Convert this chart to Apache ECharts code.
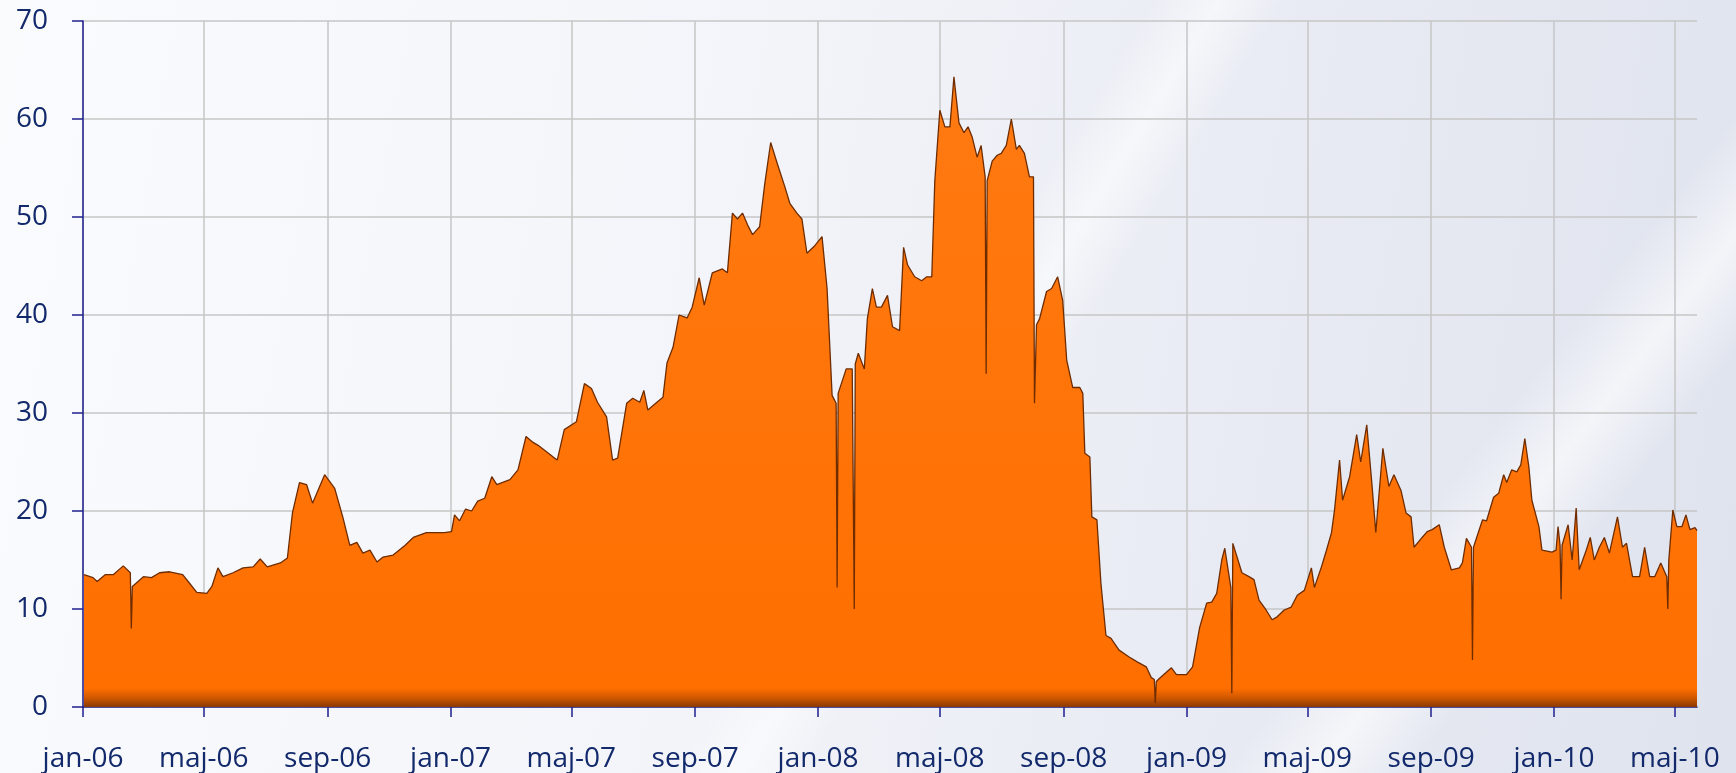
<!DOCTYPE html>
<html><head><meta charset="utf-8">
<script src="https://cdn.jsdelivr.net/npm/echarts@6/dist/echarts.min.js"></script>
<style>
html,body{margin:0;padding:0;width:1736px;height:773px;overflow:hidden;}
body{
  background:
    linear-gradient(122deg, rgba(255,255,255,0) 52%, rgba(255,255,255,0.55) 55%, rgba(255,255,255,0) 58%),
    linear-gradient(128deg, rgba(255,255,255,0) 78%, rgba(255,255,255,0.6) 82%, rgba(255,255,255,0) 86%),
    linear-gradient(100deg, #fafbfd 0%, #f4f5fa 40%, #e8ebf3 70%, #dfe3ee 100%);
}
#chart{width:1736px;height:773px;}
</style></head><body><div id="chart"></div>
<script>
const dates = [
 '2006-01-02','2006-01-11','2006-01-15','2006-01-23','2006-01-31','2006-02-10','2006-02-17','2006-02-18','2006-02-19','2006-03-02',
 '2006-03-10','2006-03-18','2006-03-28','2006-04-10','2006-04-17','2006-04-24','2006-05-04','2006-05-09','2006-05-15','2006-05-20',
 '2006-05-30','2006-06-09','2006-06-19','2006-06-26','2006-07-03','2006-07-16','2006-07-23','2006-07-28','2006-08-04','2006-08-11',
 '2006-08-17','2006-08-29','2006-09-08','2006-09-16','2006-09-23','2006-09-30','2006-10-06','2006-10-13','2006-10-20','2006-10-26',
 '2006-11-05','2006-11-17','2006-11-25','2006-12-08','2006-12-26','2007-01-02','2007-01-05','2007-01-10','2007-01-16','2007-01-22',
 '2007-01-28','2007-02-04','2007-02-11','2007-02-16','2007-03-01','2007-03-09','2007-03-17','2007-03-24','2007-03-29','2007-04-07',
 '2007-04-13','2007-04-17','2007-04-24','2007-05-06','2007-05-14','2007-05-21','2007-05-27','2007-06-05','2007-06-11','2007-06-16',
 '2007-06-25','2007-07-01','2007-07-08','2007-07-12','2007-07-16','2007-07-25','2007-07-31','2007-08-04','2007-08-10','2007-08-16',
 '2007-08-24','2007-08-29','2007-09-05','2007-09-10','2007-09-18','2007-09-23','2007-09-28','2007-10-03','2007-10-08','2007-10-13',
 '2007-10-18','2007-10-23','2007-10-28','2007-11-04','2007-11-09','2007-11-15','2007-11-22','2007-11-29','2007-12-04','2007-12-11',
 '2007-12-16','2007-12-21','2007-12-29','2008-01-05','2008-01-10','2008-01-15','2008-01-19','2008-01-20','2008-01-21','2008-01-29',
 '2008-02-04','2008-02-06','2008-02-07','2008-02-10','2008-02-16','2008-02-19','2008-02-24','2008-02-28','2008-03-04','2008-03-10',
 '2008-03-15','2008-03-22','2008-03-26','2008-03-30','2008-04-06','2008-04-13','2008-04-18','2008-04-23','2008-04-26','2008-05-01',
 '2008-05-06','2008-05-11','2008-05-15','2008-05-20','2008-05-25','2008-05-29','2008-06-02','2008-06-07','2008-06-11','2008-06-15',
 '2008-06-16','2008-06-17','2008-06-22','2008-06-27','2008-07-01','2008-07-06','2008-07-11','2008-07-16','2008-07-19','2008-07-24',
 '2008-07-29','2008-08-02','2008-08-03','2008-08-05','2008-08-08','2008-08-15','2008-08-20','2008-08-26','2008-08-31','2008-09-04',
 '2008-09-10','2008-09-17','2008-09-20','2008-09-22','2008-09-27','2008-09-29','2008-10-04','2008-10-08','2008-10-13','2008-10-18',
 '2008-10-26','2008-11-05','2008-11-13','2008-11-22','2008-11-27','2008-11-30','2008-12-01','2008-12-02','2008-12-05','2008-12-17',
 '2008-12-22','2009-01-01','2009-01-07','2009-01-14','2009-01-21','2009-01-26','2009-01-31','2009-02-05','2009-02-08','2009-02-14',
 '2009-02-15','2009-02-16','2009-02-25','2009-03-04','2009-03-09','2009-03-14','2009-03-21','2009-03-27','2009-04-01','2009-04-08',
 '2009-04-15','2009-04-21','2009-04-28','2009-05-05','2009-05-08','2009-05-15','2009-05-20','2009-05-25','2009-05-28','2009-06-02',
 '2009-06-05','2009-06-12','2009-06-19','2009-06-23','2009-06-29','2009-07-04','2009-07-08','2009-07-15','2009-07-21','2009-07-26',
 '2009-08-02','2009-08-07','2009-08-12','2009-08-15','2009-08-23','2009-08-28','2009-09-02','2009-09-09','2009-09-14','2009-09-21',
 '2009-09-29','2009-10-02','2009-10-06','2009-10-11','2009-10-12','2009-10-13','2009-10-22','2009-10-26','2009-11-02','2009-11-07',
 '2009-11-12','2009-11-15','2009-11-20','2009-11-25','2009-11-29','2009-12-03','2009-12-07','2009-12-10','2009-12-17','2009-12-20',
 '2009-12-30','2010-01-03','2010-01-05','2010-01-07','2010-01-08','2010-01-09','2010-01-15','2010-01-19','2010-01-23','2010-01-26',
 '2010-02-02','2010-02-06','2010-02-10','2010-02-15','2010-02-20','2010-02-25','2010-03-05','2010-03-10','2010-03-14','2010-03-20',
 '2010-03-27','2010-04-01','2010-04-06','2010-04-11','2010-04-17','2010-04-23','2010-04-24','2010-04-25','2010-04-29','2010-05-03',
 '2010-05-08','2010-05-12','2010-05-16','2010-05-21','2010-05-23'
];
const values = [
 13.5,13.2,12.8,13.5,13.5,14.4,13.7,8.0,12.3,13.3,
 13.2,13.7,13.8,13.5,12.6,11.7,11.6,12.3,14.2,13.3,
 13.7,14.2,14.3,15.1,14.3,14.7,15.2,19.8,22.9,22.7,
 20.8,23.7,22.3,19.4,16.5,16.8,15.7,16.0,14.8,15.3,
 15.5,16.5,17.3,17.8,17.8,17.9,19.6,19.0,20.2,20.0,
 21.0,21.3,23.5,22.7,23.2,24.2,27.6,27.0,26.7,26.0,
 25.5,25.2,28.3,29.1,33.0,32.5,31.1,29.6,25.2,25.4,
 31.0,31.5,31.1,32.3,30.3,31.1,31.6,35.1,36.7,40.0,
 39.7,40.8,43.8,41.0,44.3,44.5,44.7,44.3,50.4,49.8,
 50.4,49.2,48.2,49.0,53.3,57.6,55.3,53.1,51.4,50.4,
 49.8,46.3,47.1,48.0,42.7,31.8,31.0,12.2,32.0,34.5,
 34.5,10.0,35.0,36.1,34.5,39.6,42.7,40.8,40.8,42.0,
 38.8,38.4,46.9,45.1,43.9,43.5,43.9,43.9,53.7,60.9,
 59.2,59.2,64.3,59.6,58.6,59.2,58.2,56.1,57.3,54.1,
 34.0,53.7,55.7,56.3,56.5,57.3,60.0,56.9,57.3,56.5,
 54.1,54.1,31.0,39.0,39.6,42.4,42.7,43.9,41.5,35.4,
 32.6,32.6,32.0,25.9,25.5,19.4,19.1,12.6,7.3,7.0,
 5.8,5.1,4.6,4.1,3.0,2.8,0.4,2.6,2.9,4.0,
 3.3,3.3,4.1,8.1,10.6,10.7,11.6,15.0,16.2,12.2,
 1.4,16.7,13.7,13.3,13.0,10.9,9.9,8.9,9.2,9.9,
 10.2,11.4,11.9,14.2,12.2,14.3,16.0,17.8,20.1,25.2,
 21.1,23.5,27.8,25.0,28.8,22.9,17.8,26.4,22.5,23.7,
 22.1,19.8,19.4,16.3,17.3,17.9,18.1,18.6,16.3,14.0,
 14.2,14.7,17.2,16.3,4.8,16.3,19.1,19.0,21.4,21.8,
 23.7,22.9,24.2,24.0,24.7,27.4,24.5,21.1,18.4,16.0,
 15.8,16.0,18.4,16.5,11.0,16.5,18.6,15.0,20.3,14.0,
 16.0,17.3,15.0,16.3,17.3,15.7,19.4,16.3,16.7,13.3,
 13.3,16.3,13.3,13.3,14.7,13.3,10.0,15.0,20.1,18.4,
 18.4,19.6,18.1,18.3,18.0
];
const xStart = '2006-01-01';
const xEnd = '2010-05-23';
const tickDates = ['2006-01-01','2006-05-01','2006-09-01','2007-01-01','2007-05-01','2007-09-01','2008-01-01',
  '2008-05-01','2008-09-01','2009-01-01','2009-05-01','2009-09-01','2010-01-01','2010-05-01'];
const monthNames = ['jan','feb','mar','apr','maj','jun','jul','aug','sep','okt','nov','dec'];
const yMin = 0, yMax = 70, yStep = 10;

function toTs(s){ const p = s.split('-').map(Number); return Date.UTC(p[0], p[1]-1, p[2]); }
const tickTs = tickDates.map(toTs);
const n = Math.min(dates.length, values.length);
const seriesData = [];
for (let i = 0; i < n; i++) seriesData.push([toTs(dates[i]), values[i]]);

const textColor = '#12296b';
const axisColor = '#1f1f8f';
const font = 'Open Sans';

const chart = echarts.init(document.getElementById('chart'), null, {renderer:'canvas'});
chart.setOption({
  backgroundColor: 'transparent',
  animation: false,
  grid: {left: 83, right: 39, top: 21, bottom: 66, containLabel: false},
  xAxis: {
    type: 'value',
    min: toTs(xStart), max: toTs(xEnd),
    axisLine: {show: true, lineStyle: {color: axisColor, width: 1.5}},
    axisTick: {show: true, length: 10, customValues: tickTs, lineStyle: {color: axisColor, width: 1.5}},
    axisLabel: {
      customValues: tickTs, margin: 38, color: textColor, fontSize: 28, fontFamily: font,
      formatter: function(v){ const d = new Date(v); return monthNames[d.getUTCMonth()] + '-' + String(d.getUTCFullYear()).slice(2); }
    },
    splitLine: {show: true, lineStyle: {color: '#c6c6c6', width: 1.5}}
  },
  yAxis: {
    type: 'value', min: yMin, max: yMax, interval: yStep,
    axisLine: {show: true, lineStyle: {color: axisColor, width: 1.5}},
    axisTick: {show: true, length: 11, lineStyle: {color: axisColor, width: 1.5}},
    axisLabel: {margin: 35, color: textColor, fontSize: 28, fontFamily: font},
    splitLine: {show: true, lineStyle: {color: '#c6c6c6', width: 1.5}}
  },
  series: [{
    type: 'line',
    data: seriesData,
    showSymbol: false,
    smooth: false,
    lineStyle: {color: '#6e2c00', width: 1.3},
    areaStyle: {
      opacity: 1,
      color: new echarts.graphic.LinearGradient(0, 0, 0, 1, [
        {offset: 0, color: '#ff7a12'},
        {offset: 0.97, color: '#ff6f00'},
        {offset: 0.985, color: '#d25800'},
        {offset: 1, color: '#8a3a05'}
      ])
    },
    z: 3
  }]
});
</script>
</body></html>
